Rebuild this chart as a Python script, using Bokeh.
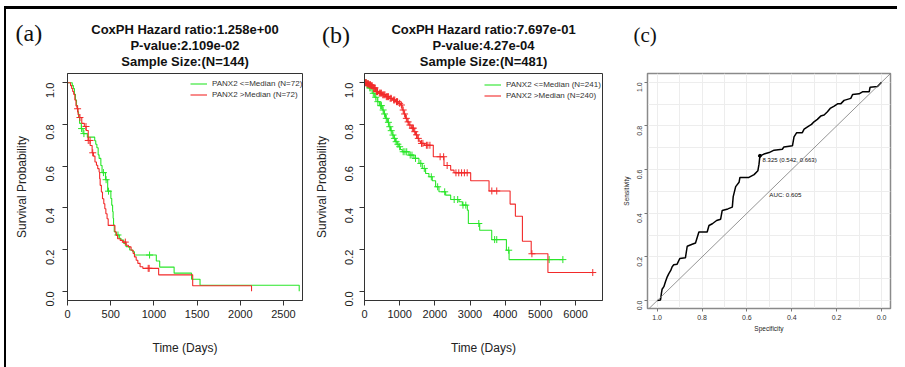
import math
import numpy as np
from bokeh.plotting import figure
from bokeh.models import (Range1d, FixedTicker, Label, Legend, LegendItem,
                          PrintfTickFormatter, Slope)
from bokeh.layouts import row, column
from bokeh.core.properties import value
from bokeh.embed import file_html
from bokeh.resources import INLINE

# ---------------- data ----------------
# Panel (a)
a_low_t = [0, 55, 68, 80, 92, 104, 116, 128, 140, 160, 180, 230, 315, 327, 340, 355, 366, 386, 400, 440,
           465, 502, 512, 522, 528, 533, 541, 560, 600, 619, 650, 678, 720, 755, 775, 1028, 1067, 1234, 1436, 1534, 2682]
a_low_s = [1.0, 0.986, 0.972, 0.944, 0.917, 0.889, 0.861, 0.833, 0.805, 0.780, 0.756, 0.739, 0.722, 0.705, 0.688, 0.654, 0.637, 0.603, 0.569, 0.535,
           0.480, 0.445, 0.413, 0.382, 0.350, 0.318, 0.286, 0.270, 0.254, 0.246, 0.230, 0.214, 0.198, 0.190, 0.174, 0.145, 0.116, 0.087, 0.058, 0.029, 0.0]
a_low_cens = [163, 190, 416, 447, 475, 584, 950]

a_high_t = [0, 35, 48, 60, 72, 85, 98, 110, 122, 135, 165, 195, 215, 240, 262, 285, 300, 318, 335, 350,
            366, 372, 378, 392, 405, 420, 432, 444, 458, 471, 549, 565, 580, 610, 639, 678, 705, 736, 760, 775,
            795, 814, 840, 872, 1055, 1449, 2130]
a_high_s = [1.0, 0.986, 0.972, 0.958, 0.944, 0.917, 0.889, 0.875, 0.847, 0.833, 0.805, 0.790, 0.771, 0.723, 0.699, 0.664, 0.648, 0.620, 0.604, 0.588,
            0.572, 0.540, 0.508, 0.476, 0.444, 0.420, 0.396, 0.372, 0.348, 0.316, 0.284, 0.268, 0.252, 0.244, 0.236, 0.221, 0.213, 0.197, 0.181, 0.165,
            0.149, 0.134, 0.118, 0.110, 0.079, 0.027, 0.0]
a_high_cens = [117, 144, 214, 240, 261, 292, 669, 934, 945]

a_titles = ["CoxPH Hazard ratio:1.258e+00", "P-value:2.109e-02", "Sample Size:(N=144)"]
a_legend = ["PANX2 <=Median (N=72)", "PANX2 >Median (N=72)"]
a_xticks = [0, 500, 1000, 1500, 2000, 2500]

# Panel (b)
b_low_t = [0, 60, 120, 219, 290, 361, 430, 504, 550, 599, 650, 693, 740, 788, 835, 883, 930, 978, 1020, 1073,
           1263, 1405, 1548, 1643, 1737, 1832, 1927, 2022, 2117, 2307, 2450, 2687, 2782, 2924, 2953, 3275, 3617, 4035, 4111, 5640]
b_low_s = [1.0, 0.990, 0.975, 0.949, 0.930, 0.909, 0.890, 0.869, 0.850, 0.829, 0.810, 0.789, 0.770, 0.749, 0.733, 0.717, 0.705, 0.693, 0.680, 0.669,
           0.653, 0.637, 0.613, 0.589, 0.565, 0.549, 0.530, 0.501, 0.477, 0.461, 0.440, 0.429, 0.413, 0.389, 0.325, 0.293, 0.248, 0.197, 0.152, 0.152]
b_low_cens = [40, 80, 100, 150, 180, 250, 320, 380, 460, 480, 530, 570, 620, 680, 720, 760, 810, 850, 900, 950,
              1000, 1100, 1150, 1200, 1300, 1350, 1450, 1600, 1700, 1900, 2080, 2280, 2550, 2650, 2800, 2880,
              3250, 3700, 3760, 4100, 5250, 5640]

b_high_t = [0, 60, 120, 180, 240, 314, 400, 500, 599, 700, 800, 883, 960, 1026, 1073, 1120, 1168, 1215, 1263, 1330,
            1405, 1450, 1500, 1550, 1595, 1700, 1956, 2260, 2450, 2545, 3019, 3541, 4140, 4290, 4490, 4740, 5215, 6490]
b_high_s = [1.0, 0.995, 0.990, 0.985, 0.975, 0.957, 0.950, 0.942, 0.933, 0.925, 0.917, 0.909, 0.901, 0.893, 0.869, 0.850, 0.829, 0.812, 0.797, 0.782,
            0.765, 0.750, 0.733, 0.720, 0.709, 0.700, 0.645, 0.603, 0.581, 0.568, 0.530, 0.481, 0.418, 0.360, 0.240, 0.180, 0.090, 0.090]
b_high_cens = [30, 50, 70, 90, 110, 130, 150, 170, 200, 220, 260, 280, 300, 340, 370, 420, 450, 480, 520, 550,
               580, 620, 650, 680, 730, 760, 830, 860, 910, 940, 1000, 1050, 1100, 1140, 1190, 1240, 1290, 1360,
               1390, 1430, 1480, 1530, 1620, 1660, 1760, 1800, 1860, 2150, 2250, 2350, 2600, 2680, 2760, 2840,
               2920, 3620, 3760, 4760, 6490]

b_titles = ["CoxPH Hazard ratio:7.697e-01", "P-value:4.27e-04", "Sample Size:(N=481)"]
b_legend = ["PANX2 <=Median (N=241)", "PANX2 >Median (N=240)"]
b_xticks = [0, 1000, 2000, 3000, 4000, 5000, 6000]

surv_ticks = [0.0, 0.2, 0.4, 0.6, 0.8, 1.0]

# Panel (c)
roc_spec = [1.0, 0.985, 0.981, 0.978, 0.970, 0.963, 0.955, 0.948, 0.940, 0.933, 0.926, 0.911, 0.899, 0.874, 0.866,
            0.844, 0.829, 0.814, 0.777, 0.769, 0.754, 0.735, 0.717, 0.710, 0.685, 0.665, 0.661, 0.650, 0.635, 0.631,
            0.591, 0.568, 0.551, 0.546, 0.542, 0.524, 0.501, 0.479, 0.442, 0.435, 0.397, 0.390, 0.378, 0.353, 0.345,
            0.323, 0.312, 0.301, 0.286, 0.271, 0.256, 0.241, 0.229, 0.211, 0.196, 0.182, 0.167, 0.137, 0.129, 0.100,
            0.085, 0.055, 0.051, 0.018, 0.0]
roc_sens = [0.0, 0.003, 0.033, 0.052, 0.064, 0.086, 0.109, 0.124, 0.137, 0.155, 0.164, 0.167, 0.193, 0.196, 0.249,
            0.258, 0.264, 0.314, 0.314, 0.344, 0.352, 0.367, 0.373, 0.413, 0.420, 0.428, 0.476, 0.522, 0.542, 0.564,
            0.564, 0.577, 0.595, 0.625, 0.663, 0.671, 0.678, 0.689, 0.693, 0.704, 0.709, 0.750, 0.769, 0.769, 0.785,
            0.800, 0.807, 0.819, 0.830, 0.845, 0.850, 0.865, 0.880, 0.891, 0.901, 0.901, 0.917, 0.926, 0.944, 0.947,
            0.956, 0.956, 0.977, 0.980, 1.0]
thr_value, thr_spec, thr_sens = 8.325, 0.542, 0.663
auc_value = 0.605
roc_ticks = [0.0, 0.2, 0.4, 0.6, 0.8, 1.0]
roc_grid = [0.0, 0.1, 0.2, 0.3, 0.4, 0.5, 0.6, 0.7, 0.8, 0.9, 1.0]

panel_tags = ["(a)", "(b)", "(c)"]

# ---------------- style / layout ----------------
FONT = "Liberation Sans"
SERIF = "Liberation Serif"
GREEN = "#2AE62A"
RED = "#F22A2A"
HEAD_H = 62          # header strip (titles + panel tags)
KM_H = 288           # KM canvases (row aligns bottom borders, so the ROC canvas is taller)
ROC_H = 296
BOTTOM = 59
Y_RANGE = (-0.044, 1.044)


def surv_at(times, surv, pts):
    idx = np.searchsorted(np.asarray(times), np.asarray(pts), side="right") - 1
    return list(np.asarray(surv)[idx])


def km_panel(width, frame, xr, xticks, low, high, legend_labels, legend_loc, ystand):
    L, R, T = frame
    p = figure(width=width, height=KM_H, x_range=Range1d(*xr), y_range=Range1d(*Y_RANGE),
               output_backend="svg", toolbar_location=None,
               min_border_left=L, min_border_right=width - R,
               min_border_top=T, min_border_bottom=BOTTOM)
    p.xgrid.visible = False
    p.ygrid.visible = False
    p.outline_line_color = "#333333"
    p.outline_line_width = 1

    renderers = []
    for (t, s, c), col in ((low, GREEN), (high, RED)):
        r = p.step(t, s, mode="after", line_color=col, line_width=1.1)
        p.scatter(c, surv_at(t, s, c), marker="cross", size=7, line_color=col, line_width=1)
        renderers.append(r)

    leg = Legend(items=[LegendItem(label=legend_labels[0], renderers=[renderers[0]]),
                        LegendItem(label=legend_labels[1], renderers=[renderers[1]])],
                 location=legend_loc, border_line_alpha=0, background_fill_alpha=0,
                 label_text_font=FONT, label_text_font_size="8px", label_text_color="#333333",
                 glyph_width=17, glyph_height=11, label_height=11, label_standoff=5,
                 spacing=0, padding=0, margin=0)
    p.add_layout(leg)

    p.xaxis.ticker = FixedTicker(ticks=xticks)
    p.yaxis.ticker = FixedTicker(ticks=surv_ticks)
    p.yaxis.formatter = PrintfTickFormatter(format="%.1f")
    p.yaxis.major_label_orientation = math.pi / 2
    for ax in (p.xaxis[0], p.yaxis[0]):
        ax.minor_tick_line_color = None
        ax.major_tick_in = 0
        ax.major_tick_out = 5
        ax.axis_line_color = "#333333"
        ax.major_tick_line_color = "#333333"
        ax.major_label_text_font = FONT
        ax.major_label_text_font_size = "11px"
        ax.major_label_text_color = "#222222"
        ax.axis_label_text_font = FONT
        ax.axis_label_text_font_size = "12px"
        ax.axis_label_text_font_style = "normal"
        ax.axis_label_text_color = "#222222"
    p.xaxis.axis_label = "Time (Days)"
    p.xaxis.major_label_standoff = 4
    p.xaxis.axis_label_standoff = 20
    p.yaxis.axis_label = "Survival Probability"
    p.yaxis.major_label_standoff = ystand[0]
    p.yaxis.axis_label_standoff = ystand[1]
    return p


pa = km_panel(304, (61, 296, 2), (0, 2720), a_xticks,
              (a_low_t, a_low_s, a_low_cens), (a_high_t, a_high_s, a_high_cens),
              a_legend, (123, 200), (12, 11))
pb = km_panel(300, (54, 292, 2), (0, 6767), b_xticks,
              (b_low_t, b_low_s, b_low_cens), (b_high_t, b_high_s, b_high_cens),
              b_legend, (120, 199), (10, 10))

# ---- ROC panel ----
CW = 287
CL, CR, CT = 37, 280, 1
pc = figure(width=CW, height=ROC_H, x_range=Range1d(1.043, -0.04), y_range=Range1d(-0.036, 1.04),
            output_backend="svg", toolbar_location=None,
            min_border_left=CL, min_border_right=CW - CR, min_border_top=CT, min_border_bottom=BOTTOM)
pc.outline_line_color = "#8A8A8A"
pc.outline_line_width = 1.5
pc.xgrid[0].ticker = FixedTicker(ticks=roc_grid)
pc.ygrid[0].ticker = FixedTicker(ticks=roc_grid)
pc.grid.grid_line_color = "#EDEDED"
pc.grid.grid_line_width = 1
pc.add_layout(Slope(gradient=-1, y_intercept=1, line_color="#7A7A7A", line_width=0.8))
pc.line(roc_spec, roc_sens, line_color="black", line_width=1.5)
pc.scatter([thr_spec], [thr_sens], size=3, color="black")
pc.add_layout(Label(x=thr_spec, y=thr_sens, x_offset=2.7, y_offset=-1.5,
                    text=f"{thr_value:.3f} ({thr_spec:.3f}, {thr_sens:.3f})",
                    text_align="left", text_baseline="top", text_font=FONT,
                    text_font_size="6px", text_color="#111111"))
pc.add_layout(Label(x=0.5, y=0.5, text=f"AUC: {auc_value:.3f}",
                    text_align="left", text_baseline="top", text_font=FONT,
                    text_font_size="6.2px", text_color="#111111"))
pc.xaxis.ticker = FixedTicker(ticks=roc_ticks)
pc.yaxis.ticker = FixedTicker(ticks=roc_ticks)
pc.xaxis.formatter = PrintfTickFormatter(format="%.1f")
pc.yaxis.formatter = PrintfTickFormatter(format="%.1f")
pc.yaxis.major_label_orientation = math.pi / 2
for ax in (pc.xaxis[0], pc.yaxis[0]):
    ax.minor_tick_line_color = None
    ax.major_tick_in = 0
    ax.major_tick_out = 3
    ax.axis_line_color = "#8A8A8A"
    ax.major_tick_line_color = "#777777"
    ax.major_label_text_font = FONT
    ax.major_label_text_font_size = "7px"
    ax.major_label_text_color = "#333333"
    ax.axis_label_text_font = FONT
    ax.axis_label_text_font_size = "6.5px"
    ax.axis_label_text_font_style = "normal"
    ax.axis_label_text_color = "#222222"
pc.xaxis.axis_label = "Specificity"
pc.yaxis.axis_label = "Sensitivity"
pc.xaxis.major_label_standoff = 3
pc.xaxis.axis_label_standoff = 2
pc.yaxis.major_label_standoff = 5
pc.yaxis.axis_label_standoff = 2

# ---- header strip: panel titles and tags (coordinates = page pixels) ----
head = figure(width=891, height=HEAD_H, x_range=Range1d(6, 897), y_range=Range1d(9 + HEAD_H, 9),
              x_axis_type=None, y_axis_type=None, output_backend="svg", toolbar_location=None,
              min_border=0)
head.outline_line_color = None
head.xgrid.visible = False
head.ygrid.visible = False
title_x = [184.5, 483.0]
title_mid = [28.8, 45.0, 61.2]
for tx, titles in zip(title_x, (a_titles, b_titles)):
    head.text(x=[tx] * 3, y=title_mid, text=titles, text_align="center", text_baseline="middle",
              text_font=value(FONT), text_font_style="bold", text_font_size="13px", text_color="#111111")
head.text(x=[15, 321.5], y=[32.5, 34], text=panel_tags[:2], text_align="left",
          text_baseline="middle", text_font=value(SERIF),
          text_font_size="24px", text_color="#111111")
head.text(x=[633], y=[34], text=panel_tags[2:], text_align="left",
          text_baseline="middle", text_font=value(SERIF),
          text_font_size="21px", text_color="#111111")

layout = column(head, row(pa, pb, pc),
                styles={"margin-top": "6px", "margin-left": "4px",
                        "border-top": "3px solid black", "border-left": "2px solid black"})

open("out.html", "w").write(file_html(layout, INLINE))
